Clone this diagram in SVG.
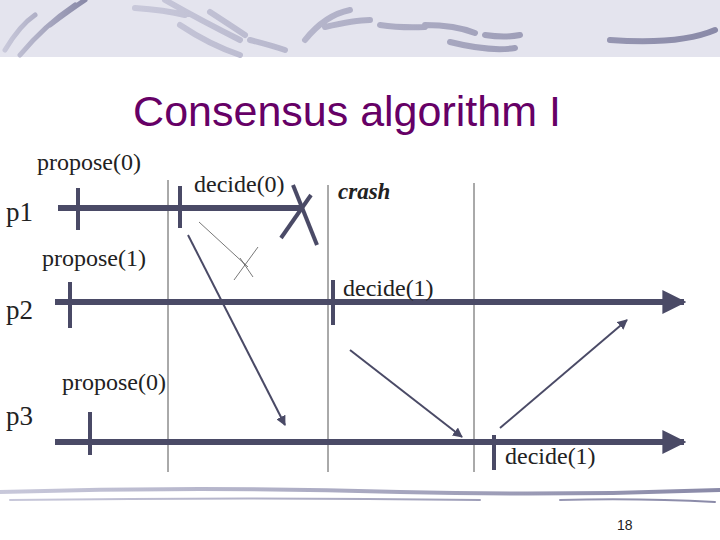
<svg xmlns="http://www.w3.org/2000/svg" width="720" height="540" viewBox="0 0 720 540">
<defs>
<marker id="ah" viewBox="0 0 10 10" refX="9" refY="5" markerWidth="5" markerHeight="5" orient="auto"><path d="M0,0 L10,5 L0,10 z" fill="#4a4a66"/></marker>
<marker id="big" viewBox="0 0 10 10" refX="9" refY="5" markerWidth="4" markerHeight="4" orient="auto"><path d="M0,0 L10,5 L0,10 z" fill="#4a4a66"/></marker>
<linearGradient id="br" x1="0" x2="1"><stop offset="0" stop-color="#c8c8da"/><stop offset="1" stop-color="#8a8aa8"/></linearGradient>
</defs>
<style>
.t{font-family:"Liberation Serif",serif;font-size:24px;fill:#222}
.p{font-family:"Liberation Serif",serif;font-size:27px;fill:#222}
.tl{stroke:#4a4a66;stroke-width:6;fill:none}
.tk{stroke:#4a4a66;stroke-width:4}
.vl{stroke:#555;stroke-width:1}
.ar{stroke:#4a4a66;stroke-width:2;marker-end:url(#ah)}
.b{stroke:url(#br);stroke-linecap:round;fill:none}
</style>
<rect width="720" height="540" fill="#fff"/>
<g id="header">
<rect width="720" height="57" fill="#e4e4ee"/>
<path class="b" stroke-width="5" d="M5,50 Q20,25 35,15 M20,55 Q45,25 75,5 M50,25 Q70,10 85,0"/>
<path class="b" stroke-width="6" d="M135,8 Q165,10 185,15 M165,0 Q200,20 240,40 M210,12 Q230,25 245,35 M180,25 Q210,45 240,55 M250,40 Q270,45 285,50 M305,40 Q325,15 350,10 M325,27 Q355,20 370,20 M380,25 Q400,28 425,27 M425,25 Q455,25 475,33 M485,35 Q505,38 520,35 M450,42 Q490,52 515,48 M610,40 Q680,45 715,30"/>
</g>
<g id="title"><text x="347" y="126" text-anchor="middle" font-family="Liberation Sans,sans-serif" font-size="43" fill="#660066">Consensus algorithm I</text></g>
<g id="grid">
<line class="vl" x1="168" y1="180" x2="168" y2="472"/>
<line class="vl" x1="328" y1="185" x2="328" y2="472"/>
<line class="vl" x1="474" y1="183" x2="474" y2="472"/>
</g>
<g id="p1">
<text class="p" x="6" y="221">p1</text>
<line class="tl" x1="58" y1="208" x2="300" y2="208"/>
<line class="tk" x1="78" y1="188" x2="78" y2="230"/>
<line class="tk" x1="180" y1="186" x2="180" y2="228"/>
<line class="tk" x1="293" y1="185" x2="317" y2="245"/>
<line class="tk" x1="281" y1="238" x2="311" y2="195"/>
<text class="t" x="37" y="170">propose(0)</text>
<text class="t" x="194" y="192">decide(0)</text>
<text x="338" y="199" font-family="Liberation Serif,serif" font-size="23" font-style="italic" font-weight="bold" fill="#222">crash</text>
</g>
<g id="p2">
<text class="p" x="6" y="319">p2</text>
<line class="tl" x1="55" y1="302" x2="684" y2="302" marker-end="url(#big)"/>
<line class="tk" x1="70" y1="282" x2="70" y2="328"/>
<line class="tk" x1="333" y1="280" x2="333" y2="325"/>
<text class="t" x="42" y="266">propose(1)</text>
<text class="t" x="343" y="296">decide(1)</text>
</g>
<g id="p3">
<text class="p" x="6" y="425">p3</text>
<line class="tl" x1="55" y1="442" x2="684" y2="442" marker-end="url(#big)"/>
<line class="tk" x1="90" y1="412" x2="90" y2="455"/>
<line class="tk" x1="494" y1="435" x2="494" y2="470"/>
<text class="t" x="62" y="390">propose(0)</text>
<text class="t" x="505" y="464">decide(1)</text>
</g>
<g id="connectors">
<line class="ar" x1="188" y1="235" x2="285" y2="425"/>
<line class="ar" x1="350" y1="350" x2="462" y2="437"/>
<line class="ar" x1="500" y1="428" x2="627" y2="320"/>
<line x1="199" y1="222" x2="248" y2="267" stroke="#555" stroke-width="0.8"/>
<line x1="240" y1="258" x2="253" y2="277" stroke="#555" stroke-width="0.8"/>
<line x1="234" y1="280" x2="258" y2="247" stroke="#555" stroke-width="0.8"/>
</g>
<g id="footer">
<path class="b" stroke-width="4" d="M0,492 Q200,486 400,492 Q560,496 720,490"/>
<path class="b" stroke-width="2" d="M10,500 Q250,497 480,500 M560,500 Q640,498 715,502"/>
<text x="617" y="530" font-family="Liberation Sans,sans-serif" font-size="14" fill="#222">18</text>
</g>
</svg>
